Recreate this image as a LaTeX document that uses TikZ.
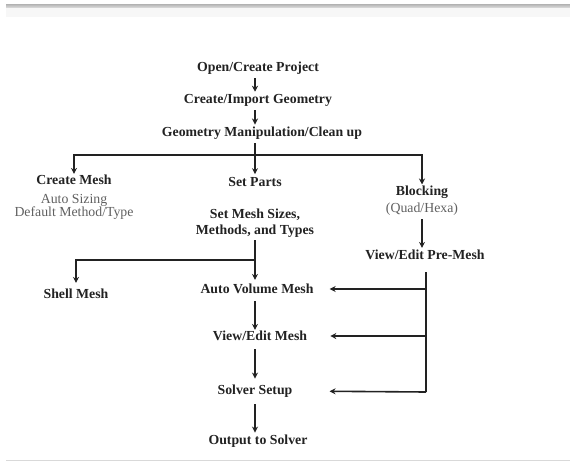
\documentclass[tikz,border=0pt]{standalone}
\usepackage{fontspec}
\setmainfont{Liberation Serif}
\usetikzlibrary{arrows.meta}
\definecolor{ink}{HTML}{222222}
\definecolor{soft}{HTML}{606060}
\begin{document}
\begin{tikzpicture}[x=1pt,y=-1pt,
  lbl/.style={font=\fontsize{13.8}{16}\selectfont\bfseries, text=ink, inner sep=0pt, align=center},
  sub/.style={font=\fontsize{13.8}{13}\selectfont, text=soft, inner sep=0pt, align=center},
  ln/.style={draw=ink, line width=1.6pt},
  arr/.style={ln, -{Stealth[length=6pt,width=6pt]}}]
\useasboundingbox (0,0) rectangle (570,463);
% top bar and bottom rule
\shade[top color=black!30, bottom color=black!12] (6,4) rectangle (570,8);
\fill[black!3] (6,8) rectangle (570,17);
\draw[black!15, line width=1pt] (6,460) -- (570,460);
% nodes
\node[lbl] (open) at (258,68) {Open/Create Project};
\node[lbl] (cig) at (258,100) {Create/Import Geometry};
\node[lbl] (geo) at (262,133) {Geometry Manipulation/Clean up};
\node[lbl] (cm) at (74,180) {Create Mesh};
\node[sub] (cmsub) at (74,207) {Auto Sizing\\Default Method/Type};
\node[lbl] (sp) at (255,182) {Set Parts};
\node[lbl] (sms) at (255,223) {Set Mesh Sizes,\\Methods, and Types};
\node[lbl] (blk) at (422,192) {Blocking};
\node[sub] (qh) at (422,209) {(Quad/Hexa)};
\node[lbl] (pre) at (425,255) {View/Edit Pre-Mesh};
\node[lbl] (shell) at (76,294) {Shell Mesh};
\node[lbl] (avm) at (257,289) {Auto Volume Mesh};
\node[lbl] (vem) at (260,336) {View/Edit Mesh};
\node[lbl] (ss) at (255,391) {Solver Setup};
\node[lbl] (out) at (258,441) {Output to Solver};
% junctions
\coordinate (j1) at (255,155);
\coordinate (j2) at (255,260);
\coordinate (rb) at (426,392);
% top column
\draw[arr, shorten <=4pt, shorten >=2pt] (open.south -| j1) -- (j1 |- cig.north);
\draw[arr, shorten <=4pt, shorten >=2pt] (cig.south -| j1) -- (j1 |- geo.north);
\draw[ln, shorten <=4pt] (geo.south -| j1) -- (j1);
% first branching
\draw[arr, shorten >=1pt] (j1) -| (cm.north);
\draw[arr, shorten >=1pt] (j1) -| (blk.north);
\draw[arr, shorten >=3pt] (j1) -- (sp.north);
% blocking branch
\draw[arr, shorten <=4pt, shorten >=2pt] (qh.south) -- (qh.south |- pre.north);
% second branching
\draw[ln, shorten <=3pt] (sms.south -| j2) -- (j2);
\draw[arr, shorten >=6pt] (j2) -| (shell.north);
\draw[arr, shorten >=4pt] (j2) -- (j2 |- avm.north);
% main column
\draw[arr, shorten <=7pt, shorten >=1pt] (avm.south -| j2) -- (j2 |- vem.north);
\draw[arr, shorten <=8pt, shorten >=6pt] (vem.south -| j2) -- (j2 |- ss.north);
\draw[arr, shorten <=7pt, shorten >=2pt] (ss.south -| j2) -- (j2 |- out.north);
% pre-mesh feedback
\draw[ln, shorten <=12pt] (pre.south -| rb) -- (rb);
\draw[arr, shorten >=16pt] (rb |- avm) -- (avm.east);
\draw[arr, shorten >=23pt] (rb |- vem) -- (vem.east);
\draw[arr, shorten >=37pt] (rb) -- (ss.east);
\end{tikzpicture}
\end{document}
